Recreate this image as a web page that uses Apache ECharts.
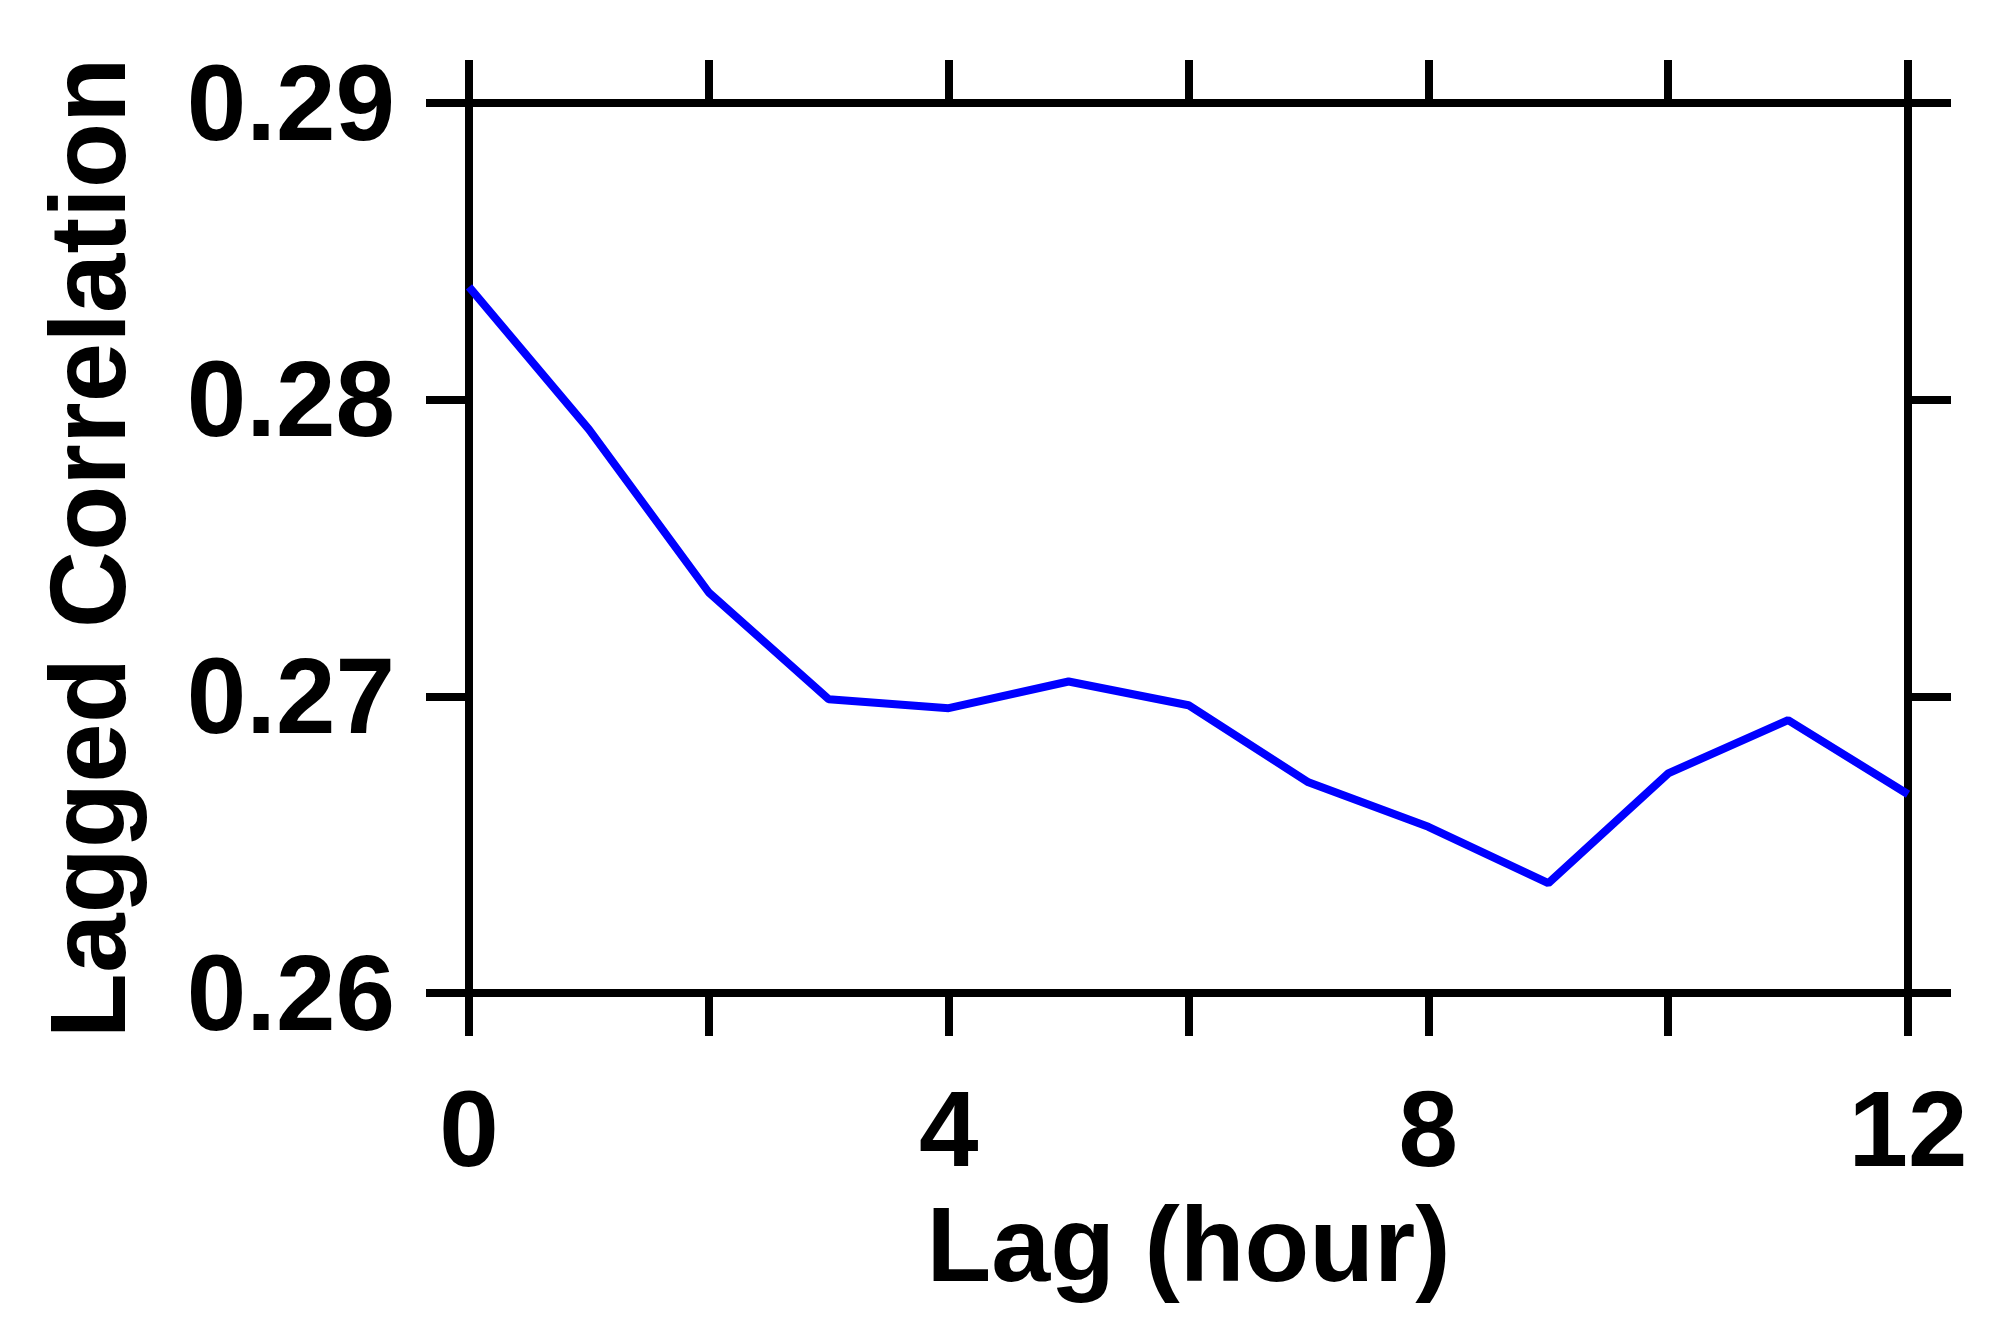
<!DOCTYPE html>
<html>
<head>
<meta charset="utf-8">
<script src="https://cdn.jsdelivr.net/npm/echarts@6/dist/echarts.min.js"></script>
<style>
  html, body { margin: 0; padding: 0; background: #fff; }
  #myChart { width: 1989px; height: 1336px; }
</style>
</head>
<body>
<div id="myChart"></div>
<script>
  // lag in hours
  const lags = [0, 1, 2, 3, 4, 5, 6, 7, 8, 9, 10, 11, 12];
  // lagged correlation
  const corr = [0.2838, 0.2790, 0.2735, 0.2699, 0.2696, 0.2705, 0.2697, 0.2671, 0.2656, 0.2637, 0.2674, 0.2692, 0.2667];
  const xLabels = [0, 4, 8, 12];

  const font = "'Liberation Sans', Arial, sans-serif";

  // black frame line, ticks pointing out
  function frameLine() {
    return { show: true, onZero: false, lineStyle: { color: '#000', width: 8 } };
  }
  function frameTick() {
    return { show: true, inside: false, length: 43, lineStyle: { color: '#000', width: 8 } };
  }

  let myChart = echarts.init(document.getElementById('myChart'));
  myChart.setOption({
    animation: false,
    grid: {
      left: 469,
      right: 81,
      top: 103,
      bottom: 343
    },
    xAxis: [
      {
        type: 'value',
        position: 'bottom',
        min: 0,
        max: 12,
        interval: 2,
        name: 'Lag (hour)',
        nameLocation: 'middle',
        nameGap: 206,
        nameTextStyle: { fontFamily: font, fontWeight: 'bold', fontSize: 106, color: '#000' },
        axisLine: frameLine(),
        axisTick: frameTick(),
        splitLine: { show: false },
        axisLabel: {
          margin: 90,
          fontFamily: font,
          fontWeight: 'bold',
          fontSize: 107,
          color: '#000',
          formatter: (v) => xLabels.indexOf(v) >= 0 ? String(v) : ''
        }
      },
      {
        type: 'value',
        position: 'top',
        min: 0,
        max: 12,
        interval: 2,
        axisLine: frameLine(),
        axisTick: frameTick(),
        axisLabel: { show: false },
        splitLine: { show: false }
      }
    ],
    yAxis: [
      {
        type: 'value',
        position: 'left',
        min: 0.26,
        max: 0.29,
        interval: 0.01,
        name: 'Lagged Correlation',
        nameLocation: 'middle',
        nameRotate: 90,
        nameGap: 320,
        nameTextStyle: { fontFamily: font, fontWeight: 'bold', fontSize: 107, color: '#000' },
        axisLine: frameLine(),
        axisTick: frameTick(),
        splitLine: { show: false },
        axisLabel: {
          margin: 74,
          verticalAlign: 'top',
          lineHeight: 14,
          fontFamily: font,
          fontWeight: 'bold',
          fontSize: 107,
          color: '#000',
          formatter: (v) => v.toFixed(2)
        }
      },
      {
        type: 'value',
        position: 'right',
        min: 0.26,
        max: 0.29,
        interval: 0.01,
        axisLine: frameLine(),
        axisTick: frameTick(),
        axisLabel: { show: false },
        splitLine: { show: false }
      }
    ],
    series: [
      {
        type: 'line',
        xAxisIndex: 0,
        yAxisIndex: 0,
        data: lags.map((x, i) => [x, corr[i]]),
        showSymbol: false,
        symbol: 'none',
        lineStyle: { color: '#0000ff', width: 8 }
      }
    ]
  });
</script>
</body>
</html>
